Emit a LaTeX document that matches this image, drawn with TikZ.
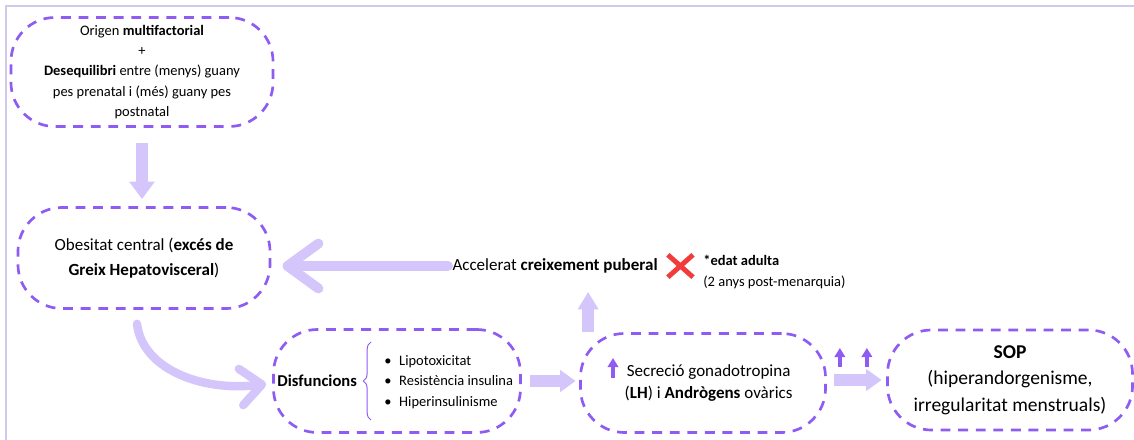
\documentclass[tikz,border=0pt]{standalone}
\usepackage{fontspec}
\setmainfont{Carlito}
\usepackage{tikz}
\usetikzlibrary{arrows.meta,calc,positioning,decorations.pathreplacing}

\definecolor{violeta}{HTML}{8E5CF2}
\definecolor{lila}{HTML}{D4C6FB}
\definecolor{marc}{HTML}{D2C8EC}
\definecolor{vermell}{HTML}{F23B3B}

\newcommand{\lletrapetita}{\fontsize{10.3}{14.5}\selectfont}
\newcommand{\lletramitjana}{\fontsize{12.1}{17.7}\selectfont}
\newcommand{\lletragran}{\fontsize{13.9}{19}\selectfont}

\tikzset{
  caixa/.style={draw=violeta, line width=1.9pt, dash pattern=on 7pt off 5.5pt,
    rounded corners=1.1cm, align=center, inner sep=0pt},
  bloc/.style={draw=lila, line width=8pt, -{Triangle[length=11pt,width=15pt]}},
  traç/.style={draw=lila, line width=7pt, line cap=round,
    -{Straight Barb[round,length=22pt,width=32pt]}},
  amunt/.style={draw=violeta, line width=2.4pt, -{Triangle[length=6.5pt,width=7.5pt]}},
  ratlla/.style={draw=vermell, line width=3.5pt},
  clau/.style={draw=violeta, line width=0.7pt, decorate,
    decoration={brace, amplitude=5.5pt}}
}

\begin{document}
\begin{tikzpicture}[x=0.025cm, y=-0.025cm]
    \useasboundingbox (0,0) rectangle (1134,440);
    \draw[marc, line width=1.4pt] (1134,6) -- (6,6) -- (6,440);

    % caixes
    \node[caixa, minimum width=6.55cm, minimum height=2.725cm, font=\lletrapetita] (origen) at (142,72)
      {Origen \textbf{multifactorial}\\ +\\ \textbf{Desequilibri} entre (menys) guany\\ pes prenatal i (més) guany pes\\ postnatal};
    \node[caixa, minimum width=6.3cm, minimum height=2.525cm, font=\lletramitjana] (obesitat) at (144,258)
      {Obesitat central (\textbf{excés de}\\ \textbf{Greix Hepatovisceral})};
    \node[caixa, minimum width=6.175cm, minimum height=2.575cm] (disf) at (397,381) {};
    \node[caixa, minimum width=6.125cm, minimum height=2.475cm, font=\fontsize{12.1}{15}\selectfont] (secrecio) at (703,383)
      {\hspace*{8pt}Secreció gonadotropina\\ \hspace*{8pt}(\textbf{LH}) i \textbf{Andrògens} ovàrics};
    \node[caixa, minimum width=6.125cm, minimum height=2.5cm, font=\lletragran] (sop) at (1010,380)
      {\textbf{SOP}\\ (hiperandorgenisme,\\ irregularitat menstruals)};

    % dins de disfuncions
    \node[anchor=west, inner sep=0pt, font=\fontsize{11.8}{14}\selectfont\bfseries] (disfnom) at ($(disf.west)+(5,0)$) {Disfuncions};
    \draw[clau] ($(disf.center)+(-26,39)$) -- ($(disf.center)+(-26,-39)$);
    \node[anchor=west, align=left, inner sep=0pt, font=\lletrapetita] (llista) at ($(disf.west)+(112,1)$)
      {\makebox[10.5pt][l]{\textbullet}Lipotoxicitat\\
       \makebox[10.5pt][l]{\textbullet}Resistència insulina\\
       \makebox[10.5pt][l]{\textbullet}Hiperinsulinisme};

    % text del mig
    \node[anchor=west, inner sep=3pt, font=\lletramitjana] (creix) at (448,266) {Accelerat \textbf{creixement puberal}};
    \node[right=4pt of creix, minimum width=17.5pt, minimum height=15.5pt, inner sep=0pt] (creu) {};
    \draw[ratlla] (creu.north west) -- (creu.south east) (creu.north east) -- (creu.south west);
    \node[anchor=west, align=left, inner sep=0pt, font=\lletrapetita] (adulta) at ($(creu.east)+(10,6)$)
      {\textbf{*edat adulta}\\ (2 anys post-menarquia)};

    % fletxes
    \draw[bloc, line width=8.5pt, -{Triangle[length=12.5pt,width=17.5pt]}, shorten <=11pt, shorten >=5pt]
      (origen.south) -- (origen.south |- obesitat.north);
    \draw[traç, shorten >=8pt] (creix.west) -- (creix.west -| obesitat.east);
    \draw[traç, line width=6pt, -{Straight Barb[round,length=15pt,width=26pt]}]
      ($(obesitat.south)+(-7,14)$) .. controls (142,368) and (200,392) .. ($(disf.west)+(-6,3)$);
    \draw[bloc, shorten <=5.5pt, shorten >=2.5pt] (disf.east) -- (disf.east -| secrecio.west);
    \coordinate (peu) at ($(secrecio.north west)+(9,0)$);
    \draw[bloc, line width=8.5pt, -{Triangle[length=12.5pt,width=14pt]}, shorten >=10pt] (peu) -- (peu |- creix.south);
    \draw[bloc, shorten <=5.3pt, shorten >=3.2pt] (sop.west -| secrecio.east) -- (sop.west);

    % fletxetes
    \draw[amunt] ($(secrecio.center)+(-90,-5)$) -- ++(0,-20);
    \foreach \dx in {13,40}
      \draw[amunt] ($(secrecio.east)+(\dx,-16)$) -- ++(0,-19);
  \end{tikzpicture}
\end{document}
